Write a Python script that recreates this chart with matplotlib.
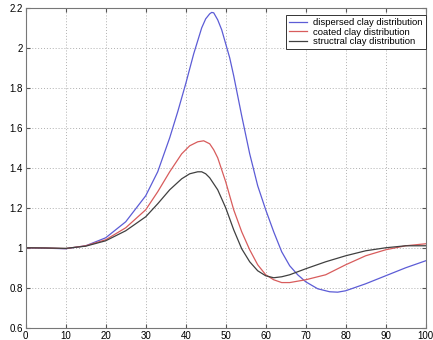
import matplotlib
matplotlib.use("Agg")
import matplotlib.pyplot as plt

plt.rcParams['font.family'] = ['Liberation Sans', 'DejaVu Sans']

# dispersed clay distribution
x_disp = [0, 5, 10, 15, 20, 25, 30, 33, 36, 38, 40, 42, 44, 45, 46, 46.5, 47, 48, 49, 50,
          51, 52, 54, 56, 58, 60, 62, 64, 66, 68, 70, 73, 76, 78, 80, 85, 90, 95, 100]
y_disp = [1.0, 0.998, 0.995, 1.01, 1.05, 1.13, 1.26, 1.38, 1.55, 1.68, 1.82, 1.97, 2.10,
          2.145, 2.17, 2.177, 2.175, 2.14, 2.09, 2.02, 1.95, 1.86, 1.66, 1.47, 1.31, 1.19,
          1.08, 0.98, 0.91, 0.865, 0.83, 0.795, 0.78, 0.778, 0.785, 0.82, 0.86, 0.90, 0.935]

# coated clay distribution
x_coat = [0, 5, 10, 15, 20, 25, 30, 33, 36, 39, 41, 43, 44.5, 46, 47, 48, 50, 52, 54, 56,
          58, 60, 62, 64, 66, 70, 75, 80, 85, 90, 95, 100]
y_coat = [1.0, 0.999, 0.996, 1.01, 1.04, 1.10, 1.19, 1.28, 1.38, 1.47, 1.51, 1.53, 1.535,
          1.52, 1.49, 1.45, 1.33, 1.19, 1.08, 0.99, 0.915, 0.865, 0.84, 0.826, 0.826, 0.84,
          0.865, 0.915, 0.96, 0.99, 1.01, 1.02]

# structral clay distribution
x_str = [0, 5, 10, 15, 20, 25, 30, 33, 36, 39, 41, 43, 44, 45, 46, 48, 50, 52, 54, 56, 58,
         60, 62, 64, 66, 70, 75, 80, 85, 90, 95, 100]
y_str = [1.0, 0.999, 0.997, 1.008, 1.035, 1.085, 1.155, 1.22, 1.29, 1.345, 1.37, 1.38, 1.38,
         1.37, 1.35, 1.29, 1.2, 1.09, 0.995, 0.93, 0.885, 0.86, 0.85, 0.855, 0.865, 0.895,
         0.93, 0.96, 0.985, 1.0, 1.01, 1.01]

labels = ["dispersed clay distribution", "coated clay distribution", "structral clay distribution"]

fig = plt.figure(figsize=(4.33, 3.40), dpi=100)
ax = fig.add_axes([0.0594, 0.036, 0.9237, 0.941])

ax.plot(x_disp, y_disp, color="#5c5cd6", lw=0.9, label=labels[0])
ax.plot(x_coat, y_coat, color="#d85c5c", lw=0.9, label=labels[1])
ax.plot(x_str, y_str, color="#404040", lw=0.9, label=labels[2])

ax.set_xlim(0, 100)
ax.set_ylim(0.6, 2.2)
ax.set_xticks(range(0, 101, 10))
ax.set_yticks([0.6, 0.8, 1, 1.2, 1.4, 1.6, 1.8, 2, 2.2])
ax.set_yticklabels(["0.6", "0.8", "1", "1.2", "1.4", "1.6", "1.8", "2", "2.2"])
ax.grid(True, color="#b0b0b0", linestyle=(0, (1, 2)), lw=0.7)
ax.tick_params(direction="in", length=3, labelsize=7, pad=2, top=True, right=True,
               color="#555555")
for sp in ax.spines.values():
    sp.set_color("#777777")
    sp.set_linewidth(0.8)

leg = ax.legend(loc="upper right", fontsize=6.8, fancybox=False, framealpha=1,
                edgecolor="#333333", handlelength=1.9, handletextpad=0.6,
                borderpad=0.35, labelspacing=0.05,
                bbox_to_anchor=(1.0, 0.978), borderaxespad=0.0)
leg.get_frame().set_linewidth(0.7)

fig.savefig("out.png", dpi=100)
